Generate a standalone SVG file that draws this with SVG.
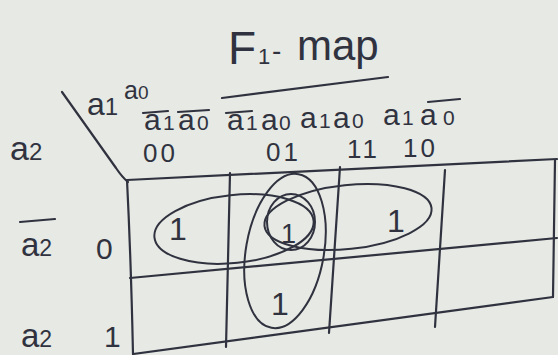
<svg xmlns="http://www.w3.org/2000/svg" width="558" height="355" viewBox="0 0 558 355">
<style>
.ink{fill:none;stroke:#30333f;stroke-width:2.2;stroke-linecap:round;stroke-linejoin:round}
.loop{fill:none;stroke:#30333f;stroke-width:2}
.t{font-family:"Liberation Sans","DejaVu Sans",sans-serif;fill:#30333f}
.h{font-size:30px}
.s{font-size:21px}
.n{font-size:26px;letter-spacing:3px}
.one{font-size:32px}
</style>
<rect width="558" height="355" fill="#e7e9e4"/>
<g id="title">
<text class="t" x="228" y="64" font-size="46">F</text>
<text class="t" x="258" y="64" font-size="22">1</text>
<text class="t" x="272" y="60" font-size="28">-</text>
<text class="t" x="297" y="60" font-size="42">map</text>
<path class="ink" d="M222 98 L388 77"/>
</g>
<g id="corner">
<path class="ink" d="M62 92 L116 168 Q122 177 128 182"/>
<text class="t" x="87" y="115" font-size="32">a<tspan font-size="24">1</tspan></text>
<text class="t" x="124" y="99" font-size="25">a<tspan font-size="19">0</tspan></text>
<text class="t" x="10" y="160" font-size="34">a<tspan font-size="24">2</tspan></text>
</g>
<g id="col-headers">
<text class="t h" x="144" y="130">a<tspan class="s" x="163">1</tspan><tspan x="178">a</tspan><tspan class="s" x="197">0</tspan></text>
<path class="ink" d="M143 113 L168 111 M178 112 L209 110"/>
<text class="t h" x="227" y="130">a<tspan class="s" x="246">1</tspan><tspan x="261">a</tspan><tspan class="s" x="279">0</tspan></text>
<path class="ink" d="M226 113 L252 111"/>
<text class="t h" x="300" y="128">a<tspan class="s" x="319">1</tspan><tspan x="333">a</tspan><tspan class="s" x="352">0</tspan></text>
<text class="t h" x="383" y="125">a<tspan class="s" x="402">1</tspan><tspan x="420">a</tspan><tspan class="s" x="443">0</tspan></text>
<path class="ink" d="M428 102 L460 99"/>
<text class="t n" x="143" y="162">00</text>
<text class="t n" x="266" y="161">01</text>
<text class="t n" x="347" y="158">11</text>
<text class="t n" x="403" y="157">10</text>
</g>
<g id="row-headers">
<text class="t" x="21" y="256" font-size="33">a<tspan font-size="23">2</tspan></text>
<path class="ink" d="M20 222 L55 219"/>
<text class="t" x="96" y="259" font-size="30">0</text>
<text class="t" x="21" y="347" font-size="33">a<tspan font-size="23">2</tspan></text>
<text class="t" x="104" y="347" font-size="30">1</text>
</g>
<g id="grid">
<path class="ink" d="M127 180 L557 159"/>
<path class="ink" d="M130 278 L557 238"/>
<path class="ink" d="M133 354 L553 297"/>
<path class="ink" d="M127 180 Q131 260 133 354"/>
<path class="ink" d="M230 173 L226 347"/>
<path class="ink" d="M340 167 L329 333"/>
<path class="ink" d="M445 170 L435 327"/>
<path class="ink" d="M555 160 L553 297"/>
</g>
<g id="cells">
<text class="t one" x="169" y="240">1</text>
<text class="t" x="281" y="243" font-size="27">1</text>
<text class="t one" x="387" y="232">1</text>
<text class="t one" x="271" y="315">1</text>
</g>
<g id="loops">
<ellipse class="loop" cx="234" cy="229" rx="80" ry="34" transform="rotate(-6 234 229)"/>
<ellipse class="loop" cx="291" cy="222" rx="24" ry="28"/>
<ellipse class="loop" cx="285" cy="251" rx="39" ry="78" transform="rotate(10 285 251)"/>
<ellipse class="loop" cx="348" cy="217" rx="84" ry="32" transform="rotate(-6 348 217)"/>
</g>
</svg>
